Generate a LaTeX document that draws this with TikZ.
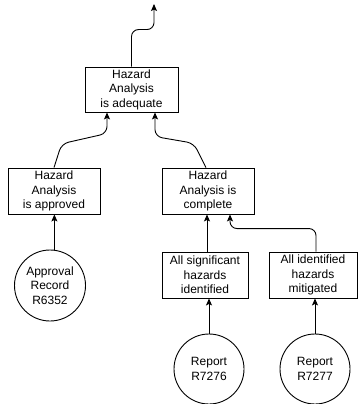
\documentclass[tikz,border=0pt]{standalone}
\usepackage{fontspec}
\setmainfont{Liberation Sans}
\usetikzlibrary{arrows.meta}

\begin{document}
\begin{tikzpicture}[x=1pt, y=-1pt,
  every node/.style={font=\fontsize{12}{14.5}\selectfont, align=center, inner sep=0pt},
  goalbox/.style={draw, line width=0.9pt, minimum height=46pt},
  evidence/.style={draw, circle, line width=0.9pt, minimum size=70pt},
  link/.style={draw, line width=0.9pt, -{Stealth[length=7pt, width=6pt, inset=1.5pt]}},
  curvedlink/.style={link, rounded corners=7pt}
]
\useasboundingbox (0,0) rectangle (358,404);

% goals
\node[goalbox, minimum width=93pt, minimum height=45pt] (adeq) at (131.5,89.5) {Hazard\\Analysis\\is adequate};
\node[goalbox, minimum width=92pt] (appr) at (54,191) {Hazard\\Analysis\\is approved};
\node[goalbox, minimum width=92pt] (comp) at (208,191) {Hazard\\Analysis is\\complete};
\node[goalbox, minimum width=86pt] (sig) at (205,275) {All significant\\hazards\\identified};
\node[goalbox, minimum width=88pt] (mit) at (313,275) {All identified\\hazards\\mitigated};

% evidence
\node[evidence, minimum size=71pt] (recA) at (50,285.5) {Approval\\Record\\R6352};
\node[evidence, minimum size=70pt] (recB) at (209,369) {Report\\R7276};
\node[evidence, minimum size=70pt] (recC) at (315,369) {Report\\R7277};

\coordinate (top) at (154,4);

% evidence to goals
\draw[link] (recA.83) -- (recA.83 |- appr.south);
\draw[link] (recB.north) -- (recB.north |- sig.south);
\draw[link] (recC.north) -- (recC.north |- mit.south);

% sub-goals to goals
\draw[link] ([xshift=2pt]sig.north) -- ([xshift=2pt]sig.north |- comp.south);
\draw[curvedlink] ([xshift=3pt]mit.north) -- ++(0,-23) -| ([xshift=22pt]comp.south);
\draw[curvedlink] (appr.north) -- ++(7.6,-23.8) -- ++(45.4,-10.3) -- ([xshift=-24.5pt]adeq.south);
\draw[curvedlink] ([xshift=-2pt]comp.north) -- ++(-12.2,-24.3) -- ++(-38.8,-6.7) -- ([xshift=23.5pt]adeq.south);
\draw[curvedlink] (adeq.north) -- ++(0,-37) -| (top);
\end{tikzpicture}
\end{document}
